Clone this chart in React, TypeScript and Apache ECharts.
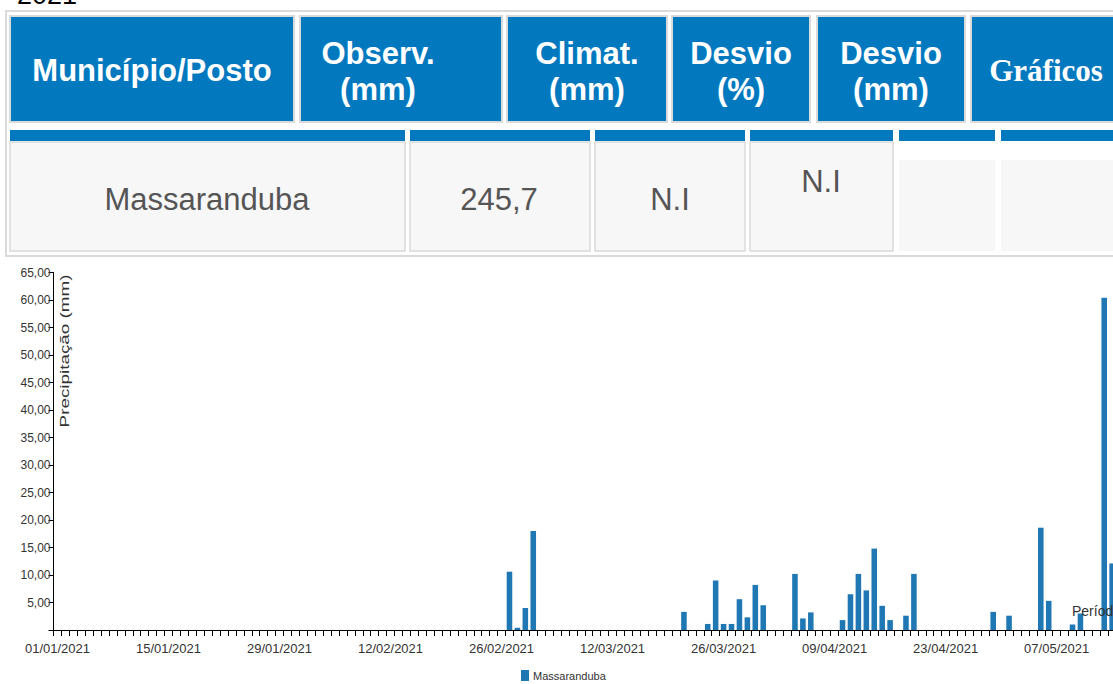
import React, { useEffect, useRef } from "react";
import * as echarts from "echarts";

// ---- data ----
const startDate = "01/01/2021";
const dayCount = 134; // 01/01/2021 .. 14/05/2021
const rainDates = [
  "27/02/2021", "28/02/2021", "01/03/2021", "02/03/2021",
  "21/03/2021", "24/03/2021", "25/03/2021", "26/03/2021", "27/03/2021", "28/03/2021", "29/03/2021", "30/03/2021", "31/03/2021",
  "04/04/2021", "05/04/2021", "06/04/2021",
  "10/04/2021", "11/04/2021", "12/04/2021", "13/04/2021", "14/04/2021", "15/04/2021", "16/04/2021",
  "18/04/2021", "19/04/2021",
  "29/04/2021", "01/05/2021", "05/05/2021", "06/05/2021", "09/05/2021", "10/05/2021", "13/05/2021", "14/05/2021",
];
const rainValues = [
  10.6, 0.4, 4.0, 18.0,
  3.3, 1.1, 9.0, 1.1, 1.1, 5.6, 2.3, 8.2, 4.5,
  10.2, 2.1, 3.2,
  1.8, 6.5, 10.2, 7.2, 14.8, 4.4, 1.8,
  2.6, 10.2,
  3.3, 2.6, 18.6, 5.3, 1.0, 3.0, 60.4, 12.1,
];
const seriesName = "Massaranduba";
const yTicks = { min: 0, max: 65, interval: 5 };

const headerLabels = ["Município/Posto", "Observ.|(mm)", "Climat.|(mm)", "Desvio|(%)", "Desvio|(mm)", "Gráficos"];
const rowValues = ["Massaranduba", "245,7", "N.I", "N.I", "", ""];
const yearTitle = "2021";
const periodText = "Período";
const yAxisTitle = "Precipitação (mm)";

function buildCategories(): string[] {
  const [d, m, y] = startDate.split("/").map(Number);
  const out: string[] = [];
  for (let i = 0; i < dayCount; i++) {
    const dt = new Date(Date.UTC(y, m - 1, d + i));
    const dd = String(dt.getUTCDate()).padStart(2, "0");
    const mm = String(dt.getUTCMonth() + 1).padStart(2, "0");
    out.push(`${dd}/${mm}/${dt.getUTCFullYear()}`);
  }
  return out;
}

const BLUE = "#0279bf";
const BORDER = "#dadada";
const SANS = "'Liberation Sans', Arial, sans-serif";
const SERIF = "'Liberation Serif', 'Times New Roman', serif";

export default function App() {
  const ref = useRef<HTMLDivElement>(null);
  useEffect(() => {
    if (!ref.current) return;
    const chart = echarts.init(ref.current, undefined, { renderer: "svg" });
    const categories = buildCategories();
    const values = categories.map((c) => {
      const k = rainDates.indexOf(c);
      return k >= 0 ? rainValues[k] : null;
    });

    const g: any[] = [];
    // outer table border
    g.push({ type: "rect", shape: { x: 6, y: 11, width: 1130, height: 245 }, style: { fill: "#fff", stroke: BORDER, lineWidth: 2 }, z: 0 });
    // header cells
    const hx = [[10, 294], [300, 502], [507, 667], [672, 810], [817, 965], [971, 1140]];
    hx.forEach(([a, b]) => {
      g.push({ type: "rect", shape: { x: a, y: 16, width: b - a, height: 106 }, style: { fill: BLUE, stroke: BORDER, lineWidth: 2 }, z: 1 });
    });
    // strips + data cells
    const dx = [[10, 405], [410, 590], [595, 745], [750, 893], [899, 995], [1001, 1140]];
    dx.forEach(([a, b], i) => {
      g.push({ type: "rect", shape: { x: a, y: 130, width: b - a, height: 11 }, style: { fill: BLUE }, z: 2 });
      const top = i >= 4 ? 160 : 142;
      g.push({ type: "rect", shape: { x: a, y: top, width: b - a, height: 251 - top }, style: { fill: "#f7f7f7", stroke: i >= 4 ? null : BORDER, lineWidth: 1.5 }, z: 1 });
    });
    // header texts
    headerLabels.forEach((lab, i) => {
      const [a, b] = hx[i];
      const cx = i === 1 ? 378 : i === 5 ? 1046 : (a + b) / 2;
      const parts = lab.split("|");
      const ys = parts.length === 2 ? [53, 89] : [70];
      parts.forEach((p, j) => {
        g.push({
          type: "text", x: cx, y: ys[j], z: 3,
          style: { text: p, fill: "#fff", font: `bold 31px ${i === 5 ? SERIF : SANS}`, align: "center", verticalAlign: "middle" },
        });
      });
    });
    // row texts
    const rowY = [199, 199, 199, 181];
    const rowX = [207, 499, 670, 821];
    rowValues.forEach((v, i) => {
      if (!v) return;
      g.push({ type: "text", x: rowX[i], y: rowY[i], z: 3, style: { text: v, fill: "#555", font: `31px ${SANS}`, align: "center", verticalAlign: "middle" } });
    });
    // year title (partially cut at top, as in the page)
    g.push({ type: "text", x: 17, y: -5, z: 3, style: { text: yearTitle, fill: "#000", font: `27px ${SANS}`, align: "left", verticalAlign: "middle" } });
    // y axis title
    g.push({ type: "text", x: 64, y: 351, rotation: Math.PI / 2, scaleX: 1.45, z: 3, style: { text: yAxisTitle, fill: "#333", font: `13px ${SANS}`, align: "center", verticalAlign: "middle" } });
    // period text (cut at the right edge, as in the page)
    g.push({ type: "text", x: 1072, y: 611, z: 3, style: { text: periodText, fill: "#333", font: `14px ${SANS}`, align: "left", verticalAlign: "middle" } });

    chart.setOption({
      animation: false,
      backgroundColor: "#fff",
      graphic: { elements: g },
      legend: {
        left: 521, top: 670, padding: 0, itemWidth: 8, itemHeight: 11,
        icon: "rect",
        textStyle: { color: "#333", fontSize: 11, fontFamily: SANS, padding: [0, 0, 0, -1] },
        data: [seriesName],
      },
      grid: { left: 53.5, top: 272.5, bottom: 54, width: 134 * 7.93, containLabel: false },
      xAxis: {
        type: "category",
        data: categories,
        boundaryGap: true,
        axisLine: { lineStyle: { color: "#000", width: 1 } },
        axisTick: { show: true, interval: 0, length: 6, lineStyle: { color: "#000" } },
        axisLabel: { interval: 13, color: "#333", fontSize: 13, fontFamily: SANS, margin: 12 },
        splitLine: { show: false },
      },
      yAxis: {
        type: "value",
        min: yTicks.min, max: yTicks.max, interval: yTicks.interval,
        axisLine: { show: true, lineStyle: { color: "#000" } },
        axisTick: { show: true, length: 5, lineStyle: { color: "#000" } },
        axisLabel: {
          color: "#333", fontSize: 12, fontFamily: SANS, margin: 3,
          formatter: (v: number) => (v === 0 ? "" : v.toFixed(2).replace(".", ",")),
        },
        splitLine: { show: false },
      },
      series: [
        {
          name: seriesName,
          type: "bar",
          data: values,
          barCategoryGap: "30%",
          itemStyle: { color: "#1f77b4" },
        },
      ],
    });
    return () => chart.dispose();
  }, []);
  return (
    <div style={{ position: "fixed", left: 0, top: 0, width: 1113, height: 684, overflow: "hidden", background: "#fff" }}>
      <div ref={ref} style={{ width: 1130, height: 684 }} />
    </div>
  );
}
